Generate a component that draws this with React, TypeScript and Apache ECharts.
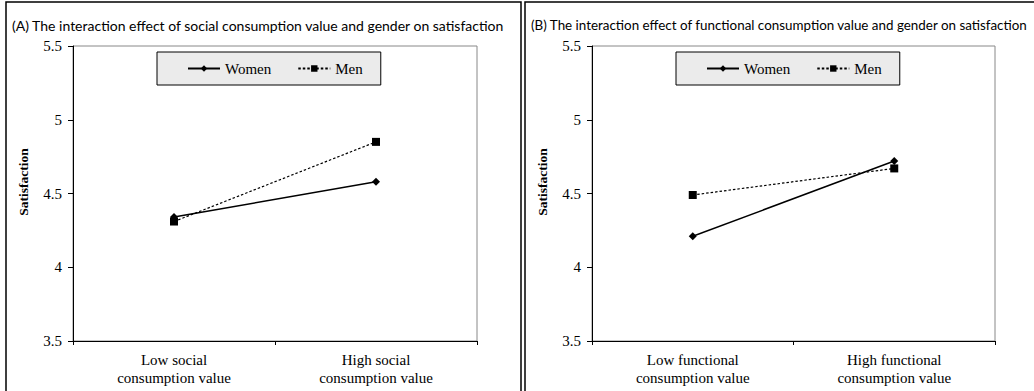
import React, { useEffect, useRef } from "react";
import * as echarts from "echarts";

const categoriesA = ["Low social\nconsumption value", "High social\nconsumption value"];
const categoriesB = ["Low functional\nconsumption value", "High functional\nconsumption value"];
const womenA = [4.34, 4.58];
const menA = [4.31, 4.85];
const womenB = [4.21, 4.72];
const menB = [4.49, 4.67];
const titleA = "(A) The interaction effect of social consumption value and gender on satisfaction";
const titleB = "(B) The interaction effect of functional consumption value and gender on satisfaction";
const yName = "Satisfaction";

const serif = "'Liberation Serif', 'DejaVu Serif', serif";
const sans = "Lato, 'Liberation Sans', sans-serif";

export default function App() {
  const ref = useRef<HTMLDivElement>(null);
  useEffect(() => {
    document.body.style.margin = "0";
    const chart = echarts.init(ref.current!, null, { renderer: "svg" });
    const grids = [
      { left: 73, top: 46, width: 404, height: 295 },
      { left: 592, top: 46, width: 403, height: 295 },
    ];
    const xAxis = [categoriesA, categoriesB].map((cats, i) => ({
      type: "category",
      gridIndex: i,
      data: cats,
      boundaryGap: true,
      axisLine: { lineStyle: { color: "#000", width: 1 } },
      axisTick: { show: true, length: 4, lineStyle: { color: "#000" } },
      axisLabel: { fontFamily: serif, fontSize: 15, color: "#000", lineHeight: 18, margin: 10 },
    }));
    const yAxis = [0, 1].map((i) => ({
      type: "value",
      gridIndex: i,
      min: 3.5,
      max: 5.5,
      interval: 0.5,
      axisLine: { show: true, lineStyle: { color: "#000", width: 1 } },
      axisTick: { show: true, length: 5, lineStyle: { color: "#000" } },
      axisLabel: { fontFamily: serif, fontSize: 15, color: "#000", margin: 11 },
      splitLine: { show: false },
    }));
    const mk = (name: string, data: number[], i: number, dashed: boolean) => ({
      name,
      type: "line",
      xAxisIndex: i,
      yAxisIndex: i,
      data,
      symbol: dashed ? "rect" : "diamond",
      symbolSize: dashed ? 8 : 8,
      itemStyle: { color: "#000" },
      lineStyle: { color: "#000", width: dashed ? 1.2 : 1.5, type: dashed ? [2.5, 2] : "solid" },
    });
    const legend = (left: number) => ({
      left,
      top: 52,
      orient: "horizontal",
      data: ["Women", "Men"],
      backgroundColor: "#ebebeb",
      borderColor: "#000",
      borderWidth: 1,
      padding: [9, 18, 9, 30],
      itemGap: 26,
      itemWidth: 32,
      itemHeight: 8,
      textStyle: { fontFamily: serif, fontSize: 15, color: "#000" },
    });
    chart.setOption({
      animation: false,
      backgroundColor: "#fff",
      grid: grids.map((g) => ({ ...g, show: true, borderColor: "#888", borderWidth: 1 })),
      xAxis,
      yAxis,
      legend: [legend(157), legend(676)],
      series: [
        mk("Women", womenA, 0, false),
        mk("Men", menA, 0, true),
        mk("Women", womenB, 1, false),
        mk("Men", menB, 1, true),
      ],
      graphic: [
        { type: "rect", shape: { x: 6, y: 2, width: 515, height: 400 }, style: { fill: "none", stroke: "#000", lineWidth: 1.5 }, silent: true },
        { type: "rect", shape: { x: 525, y: 2, width: 520, height: 400 }, style: { fill: "none", stroke: "#000", lineWidth: 1.5 }, silent: true },
        { type: "text", x: 12, y: 25, style: { text: titleA, fontFamily: sans, fontSize: 14, fill: "#000", textVerticalAlign: "middle" } },
        { type: "text", x: 531, y: 25, style: { text: titleB, fontFamily: sans, fontSize: 13.4, fill: "#000", textVerticalAlign: "middle" } },
        { type: "text", x: 23, y: 182, rotation: Math.PI / 2, style: { text: yName, fontFamily: serif, fontSize: 13.5, fontWeight: "bold", fill: "#000", textAlign: "center", textVerticalAlign: "middle" } },
        { type: "text", x: 542, y: 182, rotation: Math.PI / 2, style: { text: yName, fontFamily: serif, fontSize: 13.5, fontWeight: "bold", fill: "#000", textAlign: "center", textVerticalAlign: "middle" } },
      ],
    });
    return () => chart.dispose();
  }, []);
  return <div ref={ref} style={{ width: 1034, height: 391 }} />;
}
